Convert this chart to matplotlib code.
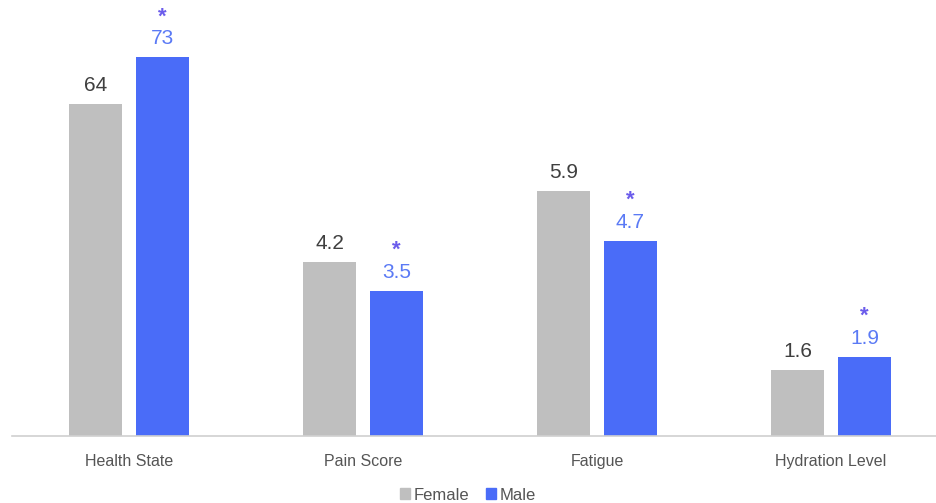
import numpy as np
import matplotlib.pyplot as plt
from matplotlib.patches import Patch

# data
categories = ['Health State', 'Pain Score', 'Fatigue', 'Hydration Level']
female = [64, 4.2, 5.9, 1.6]
male = [73, 3.5, 4.7, 1.9]
male_signif = [True, True, True, True]
# Health State is drawn on a compressed scale in the original
display_scale = [8, 1, 1, 1]

GRAY = '#BFBFBF'
BLUE = '#4A6CF8'
BLUE_TXT = '#5B7AF5'
STAR = '#6B5CEB'

plt.rcParams['font.family'] = ['Liberation Sans', 'DejaVu Sans']

fig = plt.figure(figsize=(9.36, 5.03), dpi=100)
ax = fig.add_axes([12 / 936, 1 - 436 / 503, 924 / 936, 436 / 503])

x = np.arange(len(categories))
w = 53 / 234
off = 33.5 / 234
f_h = np.array(female) / np.array(display_scale)
m_h = np.array(male) / np.array(display_scale)

ax.bar(x - off, f_h, width=w, color=GRAY, zorder=2)
ax.bar(x + off, m_h, width=w, color=BLUE, zorder=2)

ax.set_xlim(-0.5, -0.5 + 924 / 234)
ax.set_ylim(0, 436 / 41.5)

for i in range(len(categories)):
    ax.annotate(f'{female[i]:g}', (x[i] - off, f_h[i]), xytext=(0, 9),
                textcoords='offset pixels', ha='center', va='bottom',
                fontsize=15, color='#3F3F3F')
    ax.annotate(f'{male[i]:g}', (x[i] + off, m_h[i]), xytext=(0, 9),
                textcoords='offset pixels', ha='center', va='bottom',
                fontsize=15, color=BLUE_TXT)
    if male_signif[i]:
        ax.annotate('*', (x[i] + off, m_h[i]), xytext=(0, 30),
                    textcoords='offset pixels', ha='center', va='bottom',
                    fontsize=16, color=STAR, fontweight='bold')

for s in ['top', 'right', 'left']:
    ax.spines[s].set_visible(False)
ax.spines['bottom'].set_color('#D0D0D0')
ax.spines['bottom'].set_linewidth(1.2)
ax.set_yticks([])
ax.set_xticks(x)
ax.set_xticklabels(categories, fontsize=11.5, color='#555555')
ax.tick_params(axis='x', length=0, pad=13)

handles = [Patch(color=GRAY, label='Female'), Patch(color=BLUE, label='Male')]
fig.legend(handles=handles, loc='center', bbox_to_anchor=(0.5, 1 - 495 / 503),
           ncol=2, frameon=False, fontsize=12, handlelength=0.6, handleheight=0.6,
           handletextpad=0.2, columnspacing=1.0, labelcolor='#555555')

fig.savefig('out.png', dpi=100)
